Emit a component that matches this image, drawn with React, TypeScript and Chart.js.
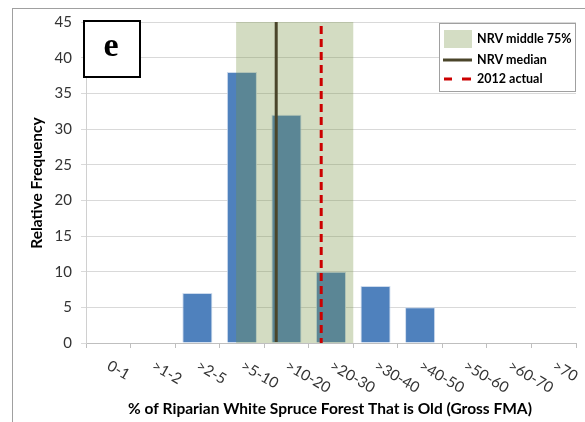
import React, { useEffect, useRef } from "react";
import { Chart, registerables } from "chart.js";
Chart.register(...registerables);

const categories = [
  "0-1", ">1-2", ">2-5", ">5-10", ">10-20", ">20-30",
  ">30-40", ">40-50", ">50-60", ">60-70", ">70",
];
const frequency = [0, 0, 7, 38, 32, 10, 8, 5, 0, 0, 0];
const yMin = 0;
const yMax = 45;
const yStep = 5;
// NRV values expressed on the category axis (category i spans i .. i+1)
const nrvMiddle75 = [3.37, 6.0];
const nrvMedian = 4.27;
const actual2012 = 5.28;
const legendLabels = ["NRV middle 75%", "NRV median", "2012 actual"];
const panelLabel = "e";
const xTitle = "% of Riparian White Spruce Forest That is Old (Gross FMA)";
const yTitle = "Relative Frequency";

const FONT = "Lato, 'Open Sans', sans-serif";
const BAND = "rgba(117,145,64,0.32)";
const BAND_SOLID = "rgb(212,221,196)";
const MEDIAN = "#4a452a";
const RED = "#cc0000";

export default function App() {
  const ref = useRef<HTMLCanvasElement>(null);
  useEffect(() => {
    const canvas = ref.current!;
    const catX = (chart: any, v: number) =>
      chart.scales.x.getPixelForValue(v - 0.5);

    const overlay = {
      id: "overlay",
      beforeDraw(chart: any) {
        const c = chart.ctx;
        c.save();
        c.fillStyle = "#fff";
        c.fillRect(0, 0, chart.width, chart.height);
        c.strokeStyle = "#a0a0a0";
        c.lineWidth = 1;
        c.strokeRect(12.5, 8.5, 700, 600);
        c.restore();
      },
      afterDatasetsDraw(chart: any) {
        const c = chart.ctx;
        const a = chart.chartArea;
        c.save();
        const x0 = catX(chart, nrvMiddle75[0]);
        const x1 = catX(chart, nrvMiddle75[1]);
        c.fillStyle = BAND;
        c.fillRect(x0, a.top, x1 - x0, a.bottom - a.top);
        // median
        const xm = catX(chart, nrvMedian);
        c.strokeStyle = MEDIAN;
        c.lineWidth = 3;
        c.beginPath();
        c.moveTo(xm, a.top);
        c.lineTo(xm, a.bottom - 1);
        c.stroke();
        // 2012 actual
        const xa = catX(chart, actual2012);
        c.strokeStyle = RED;
        c.setLineDash([8, 5]);
        c.beginPath();
        c.moveTo(xa, a.top + 4);
        c.lineTo(xa, a.bottom);
        c.stroke();
        c.restore();
      },
      afterDraw(chart: any) {
        const c = chart.ctx;
        const a = chart.chartArea;
        const xs = chart.scales.x;
        c.save();
        // x tick labels, rotated clockwise
        c.fillStyle = "#333";
        c.font = `15px ${FONT}`;
        c.textAlign = "left";
        c.textBaseline = "top";
        categories.forEach((lab, i) => {
          const cx = xs.getPixelForValue(i);
          c.save();
          c.translate(cx + 4, a.bottom + 15);
          c.rotate((30 * Math.PI) / 180);
          c.fillText(lab, 0, 0);
          c.restore();
        });
        // titles
        c.fillStyle = "#000";
        c.font = `bold 15.5px ${FONT}`;
        c.textAlign = "center";
        c.textBaseline = "middle";
        c.fillText(xTitle, 330, 409);
        c.save();
        c.translate(37, 183);
        c.rotate(-Math.PI / 2);
        c.fillText(yTitle, 0, 0);
        c.restore();
        // legend
        c.fillStyle = "#fff";
        c.fillRect(439.5, 23.5, 136, 68);
        c.strokeStyle = "#a0a0a0";
        c.lineWidth = 1;
        c.strokeRect(439.5, 23.5, 136, 68);
        c.fillStyle = BAND_SOLID;
        c.fillRect(444, 30, 28, 18);
        c.strokeStyle = MEDIAN;
        c.lineWidth = 3;
        c.beginPath();
        c.moveTo(443, 60);
        c.lineTo(472, 60);
        c.stroke();
        c.strokeStyle = RED;
        c.beginPath();
        c.moveTo(444, 79);
        c.lineTo(452, 79);
        c.moveTo(462, 79);
        c.lineTo(471, 79);
        c.stroke();
        c.fillStyle = "#000";
        c.font = `bold 12.5px ${FONT}`;
        c.textAlign = "left";
        c.textBaseline = "middle";
        [39, 60, 79].forEach((y, i) => c.fillText(legendLabels[i], 477, y));
        // panel label box
        c.fillStyle = "#fff";
        c.fillRect(84, 21, 56, 56);
        c.strokeStyle = "#000";
        c.lineWidth = 2;
        c.strokeRect(84, 21, 56, 56);
        c.fillStyle = "#000";
        c.font = `bold 34px 'Liberation Serif', serif`;
        c.textAlign = "center";
        c.textBaseline = "middle";
        c.fillText(panelLabel, 111, 47);
        c.restore();
      },
    };

    const chart = new Chart(canvas, {
      type: "bar",
      data: {
        labels: categories,
        datasets: [
          {
            data: frequency,
            backgroundColor: "#4F81BD",
            borderColor: "rgba(200,215,235,0.9)",
            borderWidth: 1,
            barPercentage: 0.675,
            categoryPercentage: 1,
          },
        ],
      },
      options: {
        responsive: false,
        animation: false,
        devicePixelRatio: 1,
        layout: { padding: { left: 0, right: 9, top: 22, bottom: 0 } },
        plugins: { legend: { display: false }, tooltip: { enabled: false } },
        scales: {
          x: {
            offset: true,
            grid: {
              offset: true,
              drawOnChartArea: false,
              drawTicks: true,
              tickLength: 5,
              color: "#bfbfbf",
            },
            border: { display: true, color: "#bfbfbf" },
            ticks: { display: false },
            afterFit: (s: any) => {
              s.height = 79;
            },
          },
          y: {
            min: yMin,
            max: yMax,
            ticks: {
              stepSize: yStep,
              padding: 9,
              color: "#333",
              font: { family: FONT, size: 15 },
            },
            grid: { color: "#d9d9d9", drawTicks: true, tickLength: 5 },
            border: { display: true, color: "#d0d0d0" },
            afterFit: (s: any) => {
              s.width = 86;
            },
          },
        },
      },
      plugins: [overlay],
    });
    return () => chart.destroy();
  }, []);
  return (
    <div style={{ position: "absolute", left: 0, top: 0 }}>
      <canvas ref={ref} width={585} height={422} />
    </div>
  );
}
